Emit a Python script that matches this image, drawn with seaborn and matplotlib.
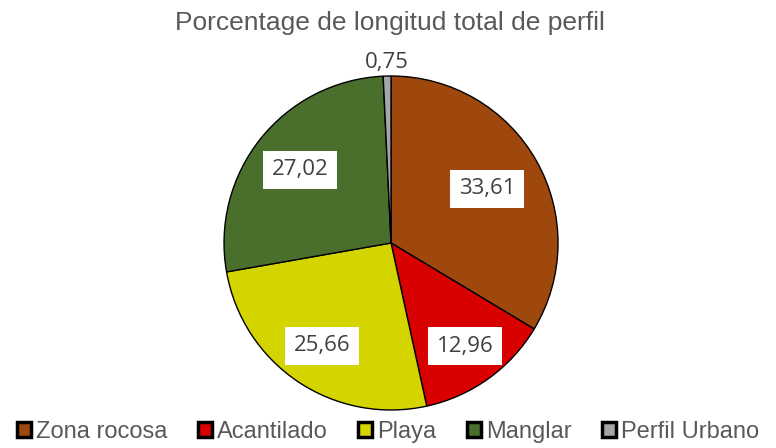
import numpy as np
import matplotlib
matplotlib.use("Agg")
import matplotlib.pyplot as plt
from matplotlib.patches import Patch
import seaborn as sns

categories = ["Zona rocosa", "Acantilado", "Playa", "Manglar", "Perfil Urbano"]
values = [33.61, 12.96, 25.66, 27.02, 0.75]
value_labels = ["33,61", "12,96", "25,66", "27,02", "0,75"]
colors = ["#9E480E", "#D90000", "#D4D400", "#4A6F2C", "#A6A6A6"]
label_dist = [0.66, 0.76, 0.74, 0.70, 1.08]

sns.set_theme(style="white")
plt.rcParams['font.family'] = ['Liberation Sans', 'DejaVu Sans']

fig = plt.figure(figsize=(7.76, 4.48), dpi=100)
ax = fig.add_axes([0.2349, -0.0084, 0.538, 0.932])

wedges, _ = ax.pie(values, colors=colors, startangle=90, counterclock=False,
                   wedgeprops=dict(edgecolor="black", linewidth=1.0))
ax.set_xlim(-1.25, 1.25)
ax.set_ylim(-1.25, 1.25)
ax.set_aspect("equal")

# value labels in white boxes (small slice outside)
for w, lab, d in zip(wedges, value_labels, label_dist):
    ang = np.deg2rad((w.theta1 + w.theta2) / 2)
    x, y = d * np.cos(ang), d * np.sin(ang)
    box = dict(facecolor="white", edgecolor="none", pad=6) if d < 1 else None
    ax.text(x, y, lab, ha="center", va="center", fontsize=16, color="#404040",
            family=["Open Sans", "DejaVu Sans"], bbox=box)

fig.text(0.503, 0.948, "Porcentage de longitud total de perfil", ha="center", va="center",
         fontsize=19, color="#595959")

handles = [Patch(facecolor=c, edgecolor="black", linewidth=2.5) for c in colors]
fig.legend(handles, categories, loc="center", bbox_to_anchor=(0.5, 0.036), ncol=5,
           frameon=False, fontsize=17, handlelength=0.6, handleheight=0.6,
           handletextpad=0.2, columnspacing=1.3, labelcolor="#595959")

plt.savefig("out.png", dpi=100)
